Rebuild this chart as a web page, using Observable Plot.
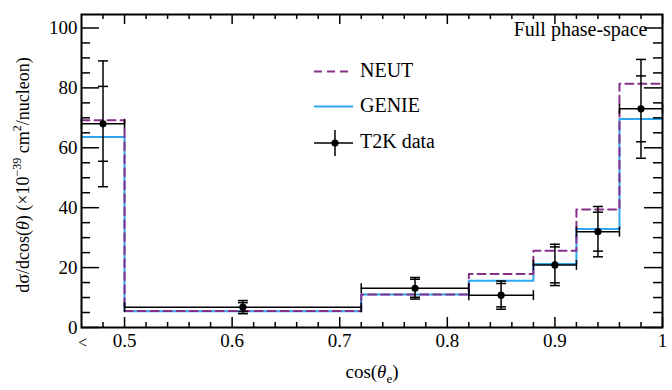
<!DOCTYPE html>
<html><head><meta charset="utf-8">
<script src="https://cdn.jsdelivr.net/npm/d3@7"></script>
<script src="https://cdn.jsdelivr.net/npm/@observablehq/plot@0.6"></script>
<style>
body{margin:0;background:#fff;}
#chart{width:672px;height:390px;}
svg{overflow:visible;}
</style></head><body><div id="chart"></div>
<script>
// ---- data ----
const binEdges = [0.46, 0.5, 0.72, 0.82, 0.88, 0.92, 0.96, 1.0];
const neutValues  = [69.2, 5.5, 11.0, 17.9, 25.6, 39.4, 81.4];
const genieValues = [63.6, 5.4, 11.0, 15.6, 21.2, 32.9, 69.6];
const dataX = [0.48, 0.61, 0.77, 0.85, 0.90, 0.94, 0.98];
const dataY = [68.0, 6.8, 13.1, 10.8, 20.9, 32.0, 73.0];
const statErr = [12.5, 1.5, 3.0, 3.9, 6.0, 6.5, 11.0];
const totErr  = [21.0, 2.2, 3.6, 4.7, 6.9, 8.4, 16.5];
const xMajorTicks = [0.5, 0.6, 0.7, 0.8, 0.9, 1.0];
const xTickLabels = ["0.5", "0.6", "0.7", "0.8", "0.9", "1"];
const xMinorTicks = [0.48, 0.52, 0.54, 0.56, 0.58, 0.62, 0.64, 0.66, 0.68, 0.72, 0.74, 0.76, 0.78,
                     0.82, 0.84, 0.86, 0.88, 0.92, 0.94, 0.96, 0.98];
const yMajorTicks = [0, 20, 40, 60, 80, 100];
const yTickLabels = ["0", "20", "40", "60", "80", "100"];
const yMinorTicks = [5, 10, 15, 25, 30, 35, 45, 50, 55, 65, 70, 75, 85, 90, 95];
const underflowLabel = "<";
const seriesNames = ["NEUT", "GENIE", "T2K data"];
const boxLabel = "Full phase-space";

// ---- styling ----
const W = 672, H = 390;
const mL = 81, mR = 10, mT = 14, mB = 63;
const plotW = W - mL - mR, plotH = H - mT - mB;
const FONT = "Liberation Serif, Times New Roman, DejaVu Serif, serif";
const PURPLE = "#86308a";
const CYAN = "#2fa8f2";
const T = {fill: "black", fontFamily: FONT};

const histPts = vals => binEdges.map((e, i) => ({x: e, y: vals[Math.min(i, vals.length - 1)]}));
const pts = dataX.map((x, i) => ({x, y: dataY[i], lo: binEdges[i], hi: binEdges[i + 1], s: statErr[i], t: totErr[i]}));

const vbar = {draw(ctx, size) { const r = Math.sqrt(size / Math.PI); ctx.moveTo(0, -r); ctx.lineTo(0, r); }};
const hbar = {draw(ctx, size) { const r = Math.sqrt(size / Math.PI); ctx.moveTo(-r, 0); ctx.lineTo(r, 0); }};
const cap = (opts) => Plot.dot(pts, {r: 5, fill: "none", stroke: "black", strokeWidth: 1.5, ...opts});

const svg = Plot.plot({
  width: W, height: H,
  marginLeft: mL, marginRight: mR, marginTop: mT, marginBottom: mB,
  style: {background: "white", color: "black"},
  x: {domain: [binEdges[0], binEdges[binEdges.length - 1]], axis: null},
  y: {domain: [0, 104.5], axis: null},
  marks: [
    Plot.line(histPts(genieValues), {x: "x", y: "y", curve: "step-after", stroke: CYAN, strokeWidth: 2}),
    Plot.line(histPts(neutValues), {x: "x", y: "y", curve: "step-after", stroke: PURPLE, strokeWidth: 2, strokeDasharray: "8,5"}),
    // data error bars
    Plot.ruleY(pts, {y: "y", x1: "lo", x2: "hi", stroke: "black", strokeWidth: 1.5}),
    Plot.ruleX(pts, {x: "x", y1: d => d.y - d.t, y2: d => d.y + d.t, stroke: "black", strokeWidth: 1.5}),
    cap({x: "lo", y: "y", symbol: vbar}),
    cap({x: "hi", y: "y", symbol: vbar}),
    cap({x: "x", y: d => d.y + d.t, symbol: hbar}),
    cap({x: "x", y: d => d.y - d.t, symbol: hbar}),
    cap({x: "x", y: d => d.y + d.s, symbol: hbar}),
    cap({x: "x", y: d => d.y - d.s, symbol: hbar}),
    Plot.dot(pts, {x: "x", y: "y", r: 3.6, fill: "black"}),
    // frame and inward ticks on all sides
    Plot.frame({stroke: "black", strokeWidth: 2}),
    Plot.tickX(xMajorTicks, {x: d => d, insetTop: plotH - 10, stroke: "black", strokeWidth: 1.5}),
    Plot.tickX(xMinorTicks, {x: d => d, insetTop: plotH - 5, stroke: "black", strokeWidth: 1.5}),
    Plot.tickX(xMajorTicks, {x: d => d, insetBottom: plotH - 10, stroke: "black", strokeWidth: 1.5}),
    Plot.tickX(xMinorTicks, {x: d => d, insetBottom: plotH - 5, stroke: "black", strokeWidth: 1.5}),
    Plot.tickY(yMajorTicks, {y: d => d, insetRight: plotW - 18, stroke: "black", strokeWidth: 1.5}),
    Plot.tickY(yMinorTicks, {y: d => d, insetRight: plotW - 9, stroke: "black", strokeWidth: 1.5}),
    Plot.tickY(yMajorTicks, {y: d => d, insetLeft: plotW - 18, stroke: "black", strokeWidth: 1.5}),
    Plot.tickY(yMinorTicks, {y: d => d, insetLeft: plotW - 9, stroke: "black", strokeWidth: 1.5}),
    // tick labels
    Plot.text(xMajorTicks, {x: d => d, text: (d, i) => xTickLabels[i], frameAnchor: "bottom", dy: 13, textAnchor: "middle", lineAnchor: "middle", fontSize: 19, ...T}),
    Plot.text([underflowLabel], {x: binEdges[0], text: d => d, frameAnchor: "bottom", dx: 1, dy: 15, textAnchor: "middle", lineAnchor: "middle", fontSize: 16, ...T}),
    Plot.text(yMajorTicks, {y: d => d, text: (d, i) => yTickLabels[i], frameAnchor: "left", dx: -4, textAnchor: "end", lineAnchor: "middle", fontSize: 19, ...T}),
    // titles
    Plot.text(["XTITLE"], {text: d => d, frameAnchor: "bottom", dy: 44, textAnchor: "middle", lineAnchor: "middle", fontSize: 19, ...T}),
    Plot.text(["YTITLE"], {text: d => d, frameAnchor: "left", dx: -58, dy: 4, rotate: -90, textAnchor: "middle", lineAnchor: "middle", fontSize: 18, ...T}),
    Plot.text([boxLabel], {text: d => d, frameAnchor: "top-right", dx: -15, dy: 15, textAnchor: "end", lineAnchor: "middle", fontSize: 20, ...T})
  ]
});

// rich text for axis titles (super/subscripts)
const s = d3.select(svg);
s.selectAll("text").each(function() {
  const t = d3.select(this);
  const c = this.textContent;
  if (c === "XTITLE") {
    t.text("");
    t.append("tspan").text("cos(");
    t.append("tspan").attr("font-style", "italic").text("θ");
    t.append("tspan").attr("font-size", 13).attr("dy", 5).text("e");
    t.append("tspan").attr("dy", -5).text(")");
  } else if (c === "YTITLE") {
    t.text("");
    t.append("tspan").text("dσ/dcos(");
    t.append("tspan").attr("font-style", "italic").text("θ");
    t.append("tspan").text(") (×10");
    t.append("tspan").attr("font-size", 12).attr("dy", -8).text("−39");
    t.append("tspan").attr("dy", 8).text(" cm");
    t.append("tspan").attr("font-size", 12).attr("dy", -8).text("2");
    t.append("tspan").attr("dy", 8).text("/nucleon)");
  }
});

// legend
const lg = s.append("g").style("font-family", FONT).style("font-size", "20px").attr("fill", "black").attr("text-anchor", "start");
const lx1 = 314, lx2 = 353, tx = 360;
const rows = [71.5, 106.5, 143];
lg.append("line").attr("x1", lx1).attr("x2", lx2).attr("y1", rows[0]).attr("y2", rows[0])
  .attr("stroke", PURPLE).attr("stroke-width", 2).attr("stroke-dasharray", "8,5");
lg.append("line").attr("x1", lx1).attr("x2", lx2).attr("y1", rows[1]).attr("y2", rows[1])
  .attr("stroke", CYAN).attr("stroke-width", 2);
lg.append("line").attr("x1", lx1).attr("x2", lx2).attr("y1", rows[2]).attr("y2", rows[2])
  .attr("stroke", "black").attr("stroke-width", 1.5);
lg.append("line").attr("x1", 335).attr("x2", 335).attr("y1", rows[2] - 13).attr("y2", rows[2] + 13)
  .attr("stroke", "black").attr("stroke-width", 1.5);
lg.append("circle").attr("cx", 335).attr("cy", rows[2]).attr("r", 3.6).attr("fill", "black");
seriesNames.forEach((n, i) => {
  lg.append("text").attr("x", tx).attr("y", rows[i] - 1).attr("dy", "0.32em").attr("text-anchor", "start").text(n);
});

s.selectAll("text").style("font-family", FONT);
document.getElementById("chart").appendChild(svg);
</script>
</body></html>
